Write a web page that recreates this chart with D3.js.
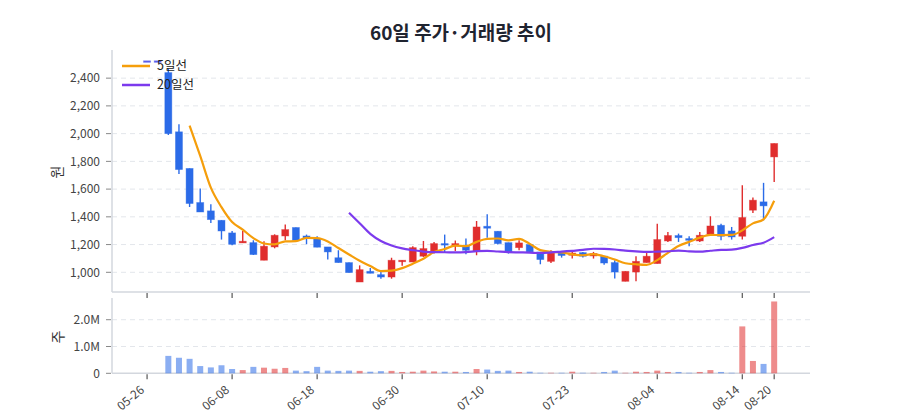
<!DOCTYPE html>
<html><head><meta charset="utf-8">
<script src="https://cdn.jsdelivr.net/npm/d3@7"></script>
<style>
body{margin:0;background:#fff;}
svg{font-family:"Noto Sans CJK KR","Noto Sans",sans-serif;}
</style></head>
<body><svg id="c" width="900" height="420"></svg>
<script>
const dates = ["05-26","05-27","05-28","05-29","06-01","06-02","06-03","06-05","06-08",
"06-09","06-10","06-11","06-12","06-15","06-16","06-17","06-18",
"06-19","06-22","06-23","06-24","06-25","06-26","06-29","06-30",
"07-01","07-02","07-03","07-06","07-07","07-08","07-09","07-10",
"07-13","07-14","07-15","07-16","07-17","07-20","07-21","07-23",
"07-24","07-27","07-28","07-29","07-30","07-31","08-03","08-04",
"08-05","08-06","08-07","08-10","08-11","08-12","08-13","08-14",
"08-18","08-19","08-20"];
const open  = [2525,2525,2440,2013,1749,1503,1443,1375,1284,1212,1214,1087,1183,1262,1323,1262,1243,1183,1105,1070,930,1007,983,966,1077,1074,1116,1154,1207,1190,1188,1154,1332,1296,1214,1178,1200,1147,1079,1139,1123,1142,1118,1116,1070,935,1002,1070,1063,1226,1265,1243,1226,1274,1339,1298,1260,1448,1508,1832];
const high  = [2525,2525,2470,2068,1749,1604,1491,1375,1298,1298,1231,1224,1274,1344,1323,1272,1260,1183,1159,1070,1050,1031,1002,1105,1087,1188,1226,1219,1272,1229,1243,1370,1419,1296,1214,1231,1207,1147,1159,1139,1159,1147,1147,1116,1087,1007,1116,1139,1351,1291,1279,1260,1291,1404,1351,1327,1628,1539,1645,1929];
const low   = [2525,2525,1990,1708,1471,1435,1356,1236,1195,1212,1125,1087,1173,1231,1231,1202,1181,1092,1070,998,930,993,954,954,1048,1074,1111,1135,1142,1154,1130,1123,1250,1200,1135,1159,1147,1058,1067,1106,1099,1106,1099,1055,955,935,935,1070,1063,1219,1219,1188,1219,1274,1231,1236,1236,1428,1375,1652];
const close = [2525,2525,2000,1741,1496,1435,1380,1298,1202,1224,1128,1188,1267,1308,1231,1248,1181,1147,1070,998,1019,993,966,1087,1087,1178,1171,1207,1197,1207,1159,1327,1318,1207,1142,1212,1147,1092,1147,1121,1139,1116,1135,1067,1002,1007,1079,1116,1236,1265,1250,1231,1267,1334,1260,1255,1395,1520,1479,1929];
const volume = [0,0,0.65,0.58,0.54,0.27,0.22,0.30,0.16,0.12,0.24,0.21,0.17,0.20,0.10,0.08,0.24,0.10,0.09,0.10,0.09,0.06,0.08,0.09,0.05,0.06,0.10,0.07,0.06,0.06,0.05,0.16,0.14,0.09,0.10,0.05,0.06,0.02,0.02,0.02,0.06,0.02,0.02,0.05,0.10,0.02,0.06,0.05,0.10,0.05,0.05,0.02,0.05,0.12,0.05,0.02,1.75,0.46,0.35,2.68].map(v=>v*1e6);
const tickIdx = [0,8,16,24,32,40,48,56,59];
const priceTicks = [1000,1200,1400,1600,1800,2000,2200,2400];
const volTicks = [0,1e6,2e6];
const maSpecs = [{n:5,label:"5일선",color:"#f59e0b"},{n:20,label:"20일선",color:"#7c3aed"}];

const UP="#e02d2d", DOWN="#2b6be8", GRID="#e3e6eb", AXIS="#d3d7de";
const svg=d3.select("#c");
const L=112,R=810, pT=50,pB=292, vT=298,vB=373.3;
const x=d3.scaleLinear().domain([-3.3,62.37]).range([L,R]);
const y=d3.scaleLinear().domain([858,2603]).range([pB,pT]);
const yv=d3.scaleLinear().domain([0,2.81e6]).range([vB,vT]);
const idx=d3.range(dates.length);

svg.append("text").attr("x",461).attr("y",40).attr("text-anchor","middle")
 .attr("font-size",19).attr("font-weight",700).attr("fill","#1f2430").text("60일 주가·거래량 추이");

// grids
const gp=svg.append("g");
gp.selectAll("line.g").data(priceTicks).join("line").attr("x1",L).attr("x2",R)
 .attr("y1",d=>y(d)).attr("y2",d=>y(d)).attr("stroke",GRID).attr("stroke-dasharray","5,4");
gp.selectAll("line.v").data(volTicks.slice(1)).join("line").attr("x1",L).attr("x2",R)
 .attr("y1",d=>yv(d)).attr("y2",d=>yv(d)).attr("stroke",GRID).attr("stroke-dasharray","5,4");

// axes lines
svg.append("line").attr("x1",L).attr("x2",L).attr("y1",pT).attr("y2",pB).attr("stroke",AXIS).attr("stroke-width",1.5);
svg.append("line").attr("x1",L).attr("x2",R).attr("y1",pB).attr("y2",pB).attr("stroke",AXIS).attr("stroke-width",1.5);
svg.append("line").attr("x1",L).attr("x2",L).attr("y1",vT).attr("y2",vB).attr("stroke",AXIS).attr("stroke-width",1.5);
svg.append("line").attr("x1",L).attr("x2",R).attr("y1",vB).attr("y2",vB).attr("stroke",AXIS).attr("stroke-width",1.5);

// y tick labels
const fmt=d3.format(",");
svg.selectAll("text.py").data(priceTicks).join("text").attr("x",100).attr("y",d=>y(d)).attr("dy","0.35em")
 .attr("text-anchor","end").attr("font-size",12).attr("fill","#444").text(d=>fmt(d));
svg.selectAll("line.pyt").data(priceTicks).join("line").attr("x1",106).attr("x2",111).attr("y1",d=>y(d)).attr("y2",d=>y(d)).attr("stroke","#888");
const vf=d=>d===0?"0":(d/1e6).toFixed(1)+"M";
svg.selectAll("text.vy").data(volTicks).join("text").attr("x",100).attr("y",d=>yv(d)).attr("dy","0.35em")
 .attr("text-anchor","end").attr("font-size",12).attr("fill","#444").text(vf);
svg.selectAll("line.vyt").data(volTicks).join("line").attr("x1",106).attr("x2",111).attr("y1",d=>yv(d)).attr("y2",d=>yv(d)).attr("stroke","#888");

svg.append("text").attr("transform","translate(57,172) rotate(-90)").attr("text-anchor","middle").attr("dy","0.35em")
 .attr("font-size",14).attr("fill","#333").text("원");
svg.append("text").attr("transform","translate(58,337) rotate(-90)").attr("text-anchor","middle").attr("dy","0.35em")
 .attr("font-size",14).attr("fill","#333").text("주");

// x ticks
[pB,vB].forEach(yy=>{
 svg.selectAll(null).data(tickIdx).join("line").attr("x1",d=>x(d)).attr("x2",d=>x(d)).attr("y1",yy+1).attr("y2",yy+6).attr("stroke","#555").attr("stroke-width",1.2);
});
svg.selectAll("text.xl").data(tickIdx).join("text")
 .attr("transform",d=>`translate(${x(d)-2},${vB+18}) rotate(-40)`)
 .attr("text-anchor","end").attr("font-size",12).attr("fill","#444").text(d=>dates[d]);

// volume bars
svg.append("g").selectAll("rect").data(idx.filter(i=>volume[i]>0)).join("rect")
 .attr("x",i=>x(i)-3).attr("width",6).attr("y",i=>yv(volume[i])).attr("height",i=>yv(0)-yv(volume[i]))
 .attr("fill",i=>close[i]>open[i]?UP:DOWN).attr("fill-opacity",0.55);

// candles
const cg=svg.append("g");
idx.forEach(i=>{
 const up=close[i]>open[i];
 const col= close[i]===open[i]&&high[i]===low[i] ? "#5a60ee" : (up?UP:DOWN);
 cg.append("line").attr("x1",x(i)).attr("x2",x(i)).attr("y1",y(high[i])).attr("y2",y(low[i])).attr("stroke",col).attr("stroke-width",1.4);
 const top=y(Math.max(open[i],close[i])), bot=y(Math.min(open[i],close[i]));
 cg.append("rect").attr("x",x(i)-3.5).attr("width",7).attr("y",top).attr("height",Math.max(bot-top,1.5))
  .attr("fill",col).attr("stroke",col).attr("stroke-opacity",0.5).attr("stroke-width",0.8);
});

// moving averages
maSpecs.forEach(s=>{
 const pts=idx.filter(i=>i>=s.n-1).map(i=>[i,d3.mean(close.slice(i-s.n+1,i+1))]);
 svg.append("path").datum(pts).attr("fill","none").attr("stroke",s.color).attr("stroke-width",2.2)
  .attr("d",d3.line().x(d=>x(d[0])).y(d=>y(d[1])).curve(d3.curveMonotoneX));
});

// legend
maSpecs.forEach((s,k)=>{
 const yy=66+k*19;
 svg.append("line").attr("x1",122).attr("x2",150).attr("y1",yy).attr("y2",yy).attr("stroke",s.color).attr("stroke-width",2.5);
 svg.append("text").attr("x",157).attr("y",yy).attr("dy","0.35em").attr("font-size",12.5).attr("fill","#222").text(s.label);
});
</script></body></html>
